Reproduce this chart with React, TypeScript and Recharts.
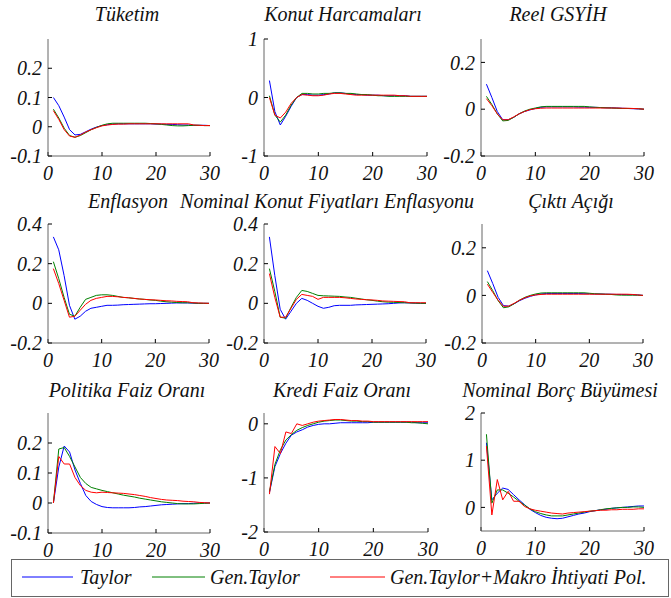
import React from "react";
import { LineChart, Line, XAxis, YAxis } from "recharts";

// horizon (quarters)
const periods = [1, 2, 3, 4, 5, 6, 7, 8, 9, 10, 11, 12, 13, 14, 15, 16, 17, 18, 19, 20, 21, 22, 23, 24, 25, 26, 27, 28, 29, 30];

const tuketimTaylor = [0.1, 0.072, 0.033, -0.01, -0.028, -0.026, -0.017, -0.008, -0.001, 0.004, 0.007, 0.009, 0.01, 0.01, 0.01, 0.01, 0.01, 0.01, 0.01, 0.009, 0.009, 0.008, 0.008, 0.007, 0.006, 0.006, 0.005, 0.005, 0.005, 0.004];
const tuketimGen = [0.06, 0.03, -0.005, -0.03, -0.036, -0.03, -0.02, -0.01, -0.002, 0.005, 0.01, 0.012, 0.012, 0.012, 0.012, 0.012, 0.012, 0.012, 0.011, 0.01, 0.008, 0.006, 0.004, 0.003, 0.003, 0.004, 0.005, 0.005, 0.004, 0.004];
const tuketimMakro = [0.055, 0.025, -0.01, -0.032, -0.036, -0.028, -0.018, -0.01, -0.003, 0.003, 0.006, 0.008, 0.009, 0.009, 0.01, 0.01, 0.01, 0.01, 0.01, 0.01, 0.01, 0.01, 0.01, 0.01, 0.01, 0.01, 0.006, 0.005, 0.004, 0.004];

const konutTaylor = [0.29, -0.24, -0.47, -0.32, -0.15, 0.0, 0.05, 0.05, 0.04, 0.04, 0.05, 0.06, 0.08, 0.08, 0.07, 0.06, 0.05, 0.05, 0.04, 0.04, 0.04, 0.03, 0.03, 0.03, 0.03, 0.03, 0.02, 0.02, 0.02, 0.02];
const konutGen = [0.03, -0.3, -0.42, -0.3, -0.13, 0.0, 0.07, 0.07, 0.06, 0.06, 0.07, 0.07, 0.08, 0.08, 0.07, 0.07, 0.06, 0.05, 0.05, 0.04, 0.03, 0.03, 0.02, 0.02, 0.02, 0.02, 0.02, 0.02, 0.02, 0.02];
const konutMakro = [0.0, -0.3, -0.35, -0.25, -0.1, 0.0, 0.05, 0.04, 0.03, 0.03, 0.04, 0.06, 0.07, 0.07, 0.06, 0.05, 0.04, 0.04, 0.04, 0.04, 0.04, 0.04, 0.04, 0.04, 0.03, 0.03, 0.02, 0.02, 0.02, 0.02];

const gsyihTaylor = [0.107, 0.05, -0.01, -0.045, -0.045, -0.035, -0.02, -0.01, -0.003, 0.003, 0.008, 0.01, 0.01, 0.01, 0.01, 0.01, 0.01, 0.009, 0.009, 0.008, 0.008, 0.007, 0.006, 0.006, 0.005, 0.004, 0.003, 0.002, 0.001, 0.0];
const gsyihGen = [0.055, 0.02, -0.02, -0.05, -0.048, -0.035, -0.02, -0.008, 0.0, 0.005, 0.01, 0.012, 0.012, 0.012, 0.012, 0.012, 0.012, 0.012, 0.012, 0.01, 0.008, 0.007, 0.006, 0.005, 0.004, 0.003, 0.003, 0.003, 0.002, 0.0];
const gsyihMakro = [0.045, 0.015, -0.02, -0.045, -0.045, -0.033, -0.02, -0.01, -0.002, 0.002, 0.004, 0.005, 0.005, 0.005, 0.005, 0.005, 0.005, 0.005, 0.005, 0.005, 0.005, 0.005, 0.005, 0.005, 0.005, 0.004, 0.004, 0.003, 0.002, 0.0];

const enfTaylor = [0.335, 0.27, 0.14, -0.01, -0.08, -0.065, -0.04, -0.025, -0.02, -0.015, -0.01, -0.01, -0.009, -0.007, -0.006, -0.005, -0.004, -0.003, -0.002, -0.002, -0.001, 0.0, 0.001, 0.002, 0.002, 0.002, 0.001, 0.0, 0.0, 0.0];
const enfGen = [0.21, 0.125, 0.03, -0.055, -0.065, -0.02, 0.02, 0.03, 0.04, 0.043, 0.043, 0.04, 0.035, 0.03, 0.028, 0.025, 0.022, 0.02, 0.017, 0.015, 0.011, 0.008, 0.006, 0.004, 0.003, 0.003, 0.002, 0.0, 0.0, 0.0];
const enfMakro = [0.175, 0.1, 0.015, -0.07, -0.065, -0.035, -0.005, 0.015, 0.025, 0.03, 0.035, 0.035, 0.033, 0.03, 0.028, 0.025, 0.022, 0.02, 0.018, 0.017, 0.015, 0.013, 0.012, 0.01, 0.009, 0.008, 0.003, 0.002, 0.001, 0.0];

const fiyatTaylor = [0.335, 0.14, -0.03, -0.08, -0.04, 0.0, 0.025, 0.015, 0.0, -0.015, -0.025, -0.02, -0.012, -0.01, -0.01, -0.01, -0.008, -0.007, -0.006, -0.005, -0.004, -0.003, -0.002, 0.0, 0.002, 0.003, 0.002, 0.001, 0.0, 0.0];
const fiyatGen = [0.175, 0.06, -0.07, -0.075, -0.02, 0.03, 0.065, 0.06, 0.05, 0.04, 0.038, 0.037, 0.036, 0.035, 0.032, 0.03, 0.026, 0.022, 0.018, 0.015, 0.011, 0.008, 0.006, 0.005, 0.004, 0.003, 0.002, 0.001, 0.0, 0.0];
const fiyatMakro = [0.15, 0.03, -0.07, -0.07, -0.025, 0.02, 0.045, 0.04, 0.035, 0.02, 0.03, 0.03, 0.03, 0.03, 0.028, 0.025, 0.022, 0.02, 0.018, 0.017, 0.015, 0.012, 0.011, 0.01, 0.009, 0.008, 0.003, 0.003, 0.003, 0.003];

const aciginTaylor = [0.104, 0.05, -0.008, -0.043, -0.045, -0.035, -0.022, -0.012, -0.004, 0.002, 0.006, 0.008, 0.008, 0.008, 0.008, 0.008, 0.008, 0.008, 0.007, 0.007, 0.006, 0.006, 0.005, 0.005, 0.004, 0.004, 0.003, 0.003, 0.002, 0.0];
const aciginGen = [0.058, 0.02, -0.022, -0.052, -0.048, -0.035, -0.02, -0.008, 0.0, 0.006, 0.01, 0.011, 0.011, 0.011, 0.011, 0.011, 0.011, 0.011, 0.011, 0.009, 0.007, 0.006, 0.005, 0.004, 0.002, 0.001, 0.001, 0.001, 0.001, 0.0];
const aciginMakro = [0.047, 0.013, -0.02, -0.046, -0.045, -0.033, -0.02, -0.01, -0.002, 0.002, 0.004, 0.005, 0.005, 0.005, 0.005, 0.005, 0.005, 0.005, 0.005, 0.005, 0.005, 0.005, 0.005, 0.005, 0.005, 0.005, 0.005, 0.004, 0.002, 0.0];

const faizTaylor = [0.0, 0.12, 0.19, 0.17, 0.11, 0.065, 0.025, 0.005, -0.005, -0.012, -0.015, -0.016, -0.016, -0.016, -0.016, -0.015, -0.013, -0.012, -0.01, -0.008, -0.006, -0.005, -0.004, -0.003, -0.002, -0.002, -0.001, 0.0, 0.0, 0.0];
const faizGen = [0.0, 0.18, 0.185, 0.155, 0.12, 0.085, 0.065, 0.052, 0.047, 0.042, 0.038, 0.034, 0.03, 0.026, 0.023, 0.02, 0.016, 0.013, 0.01, 0.007, 0.004, 0.002, 0.0, -0.002, -0.003, -0.003, -0.003, -0.002, -0.001, 0.0];
const faizMakro = [0.0, 0.155, 0.13, 0.13, 0.085, 0.058, 0.042, 0.036, 0.034, 0.036, 0.035, 0.034, 0.033, 0.032, 0.03, 0.028, 0.025, 0.022, 0.018, 0.015, 0.012, 0.01, 0.009, 0.008, 0.006, 0.005, 0.004, 0.002, 0.001, 0.0];

const krediTaylor = [-1.27, -0.79, -0.55, -0.36, -0.21, -0.15, -0.11, -0.06, -0.03, -0.01, 0.0, 0.0, 0.01, 0.02, 0.02, 0.02, 0.02, 0.02, 0.02, 0.03, 0.03, 0.03, 0.03, 0.03, 0.03, 0.03, 0.03, 0.02, 0.02, 0.02];
const krediGen = [-1.25, -0.75, -0.48, -0.3, -0.2, -0.12, -0.07, -0.03, 0.0, 0.03, 0.05, 0.06, 0.07, 0.07, 0.06, 0.05, 0.05, 0.04, 0.04, 0.03, 0.03, 0.03, 0.03, 0.03, 0.03, 0.03, 0.02, 0.02, 0.01, 0.0];
const krediMakro = [-1.3, -0.42, -0.55, -0.15, -0.18, 0.0, -0.03, 0.0, 0.03, 0.05, 0.06, 0.07, 0.08, 0.08, 0.07, 0.06, 0.06, 0.05, 0.05, 0.04, 0.04, 0.04, 0.04, 0.04, 0.04, 0.04, 0.04, 0.04, 0.04, 0.04];

const borcTaylor = [1.37, 0.16, 0.3, 0.41, 0.38, 0.27, 0.16, 0.06, -0.04, -0.11, -0.17, -0.21, -0.23, -0.24, -0.23, -0.2, -0.17, -0.14, -0.12, -0.09, -0.07, -0.05, -0.04, -0.02, -0.01, 0.0, 0.01, 0.02, 0.03, 0.03];
const borcGen = [1.55, 0.09, 0.37, 0.37, 0.3, 0.22, 0.13, 0.05, -0.03, -0.09, -0.13, -0.16, -0.18, -0.18, -0.18, -0.16, -0.14, -0.12, -0.1, -0.08, -0.07, -0.05, -0.03, -0.02, -0.01, 0.0, 0.0, 0.01, 0.01, 0.0];
const borcMakro = [1.3, -0.16, 0.59, 0.16, 0.34, 0.13, 0.13, 0.02, -0.03, -0.06, -0.08, -0.1, -0.12, -0.13, -0.14, -0.12, -0.11, -0.1, -0.09, -0.08, -0.07, -0.06, -0.06, -0.05, -0.05, -0.04, -0.04, -0.04, -0.03, -0.03];

const xTicks = [0, 10, 20, 30];

const seriesNames = ["Taylor", "Gen.Taylor", "Gen.Taylor+Makro İhtiyati Pol."];
const seriesColors = ["#0000ff", "#008000", "#ff0000"];

const FONT = "Liberation Serif";

// plot box (l, t, r, b) and title centre for each panel
const panels = [
  { title: "Tüketim", s: [tuketimTaylor, tuketimGen, tuketimMakro], domain: [-0.1, 0.3], ticks: [-0.1, 0, 0.1, 0.2], box: [48, 39, 210, 156], tx: 127, ty: 4 },
  { title: "Konut Harcamaları", s: [konutTaylor, konutGen, konutMakro], domain: [-1, 1], ticks: [-1, 0, 1], box: [264, 39, 427, 156], tx: 343, ty: 4 },
  { title: "Reel GSYİH", s: [gsyihTaylor, gsyihGen, gsyihMakro], domain: [-0.2, 0.3], ticks: [-0.2, 0, 0.2], box: [481, 39, 644, 156], tx: 558, ty: 4 },
  { title: "Enflasyon", s: [enfTaylor, enfGen, enfMakro], domain: [-0.2, 0.4], ticks: [-0.2, 0, 0.2, 0.4], box: [48, 224, 209, 343], tx: 128, ty: 191 },
  { title: "Nominal Konut Fiyatları Enflasyonu", s: [fiyatTaylor, fiyatGen, fiyatMakro], domain: [-0.2, 0.4], ticks: [-0.2, 0, 0.2, 0.4], box: [264, 224, 426, 343], tx: 327, ty: 191 },
  { title: "Çıktı Açığı", s: [aciginTaylor, aciginGen, aciginMakro], domain: [-0.2, 0.3], ticks: [-0.2, 0, 0.2], box: [482, 224, 643, 343], tx: 571, ty: 191 },
  { title: "Politika Faiz Oranı", s: [faizTaylor, faizGen, faizMakro], domain: [-0.1, 0.3], ticks: [-0.1, 0, 0.1, 0.2], box: [48, 413, 210, 533], tx: 127, ty: 380 },
  { title: "Kredi Faiz Oranı", s: [krediTaylor, krediGen, krediMakro], domain: [-2, 0.2], ticks: [-2, -1, 0], box: [264, 413, 428, 532], tx: 342, ty: 380 },
  { title: "Nominal Borç Büyümesi", s: [borcTaylor, borcGen, borcMakro], domain: [-0.5, 2], ticks: [0, 1, 2], box: [481, 413, 644, 531], tx: 560, ty: 380 },
];

const tickStyle = { fontSize: 20, fontFamily: FONT, fontStyle: "italic", fill: "#111" };
const frame = { stroke: "#666" };
const tickMark = { stroke: "#000" };
const blank = () => "";

const YW = 50;
const XH = 32;
const PT = 14; // room above the box for the top tick label
const PR = 16; // room right of the box for the "30" label

function Panel({ p }: { p: any }) {
  const [l, t, r, b] = p.box;
  const w = r - l;
  const h = b - t;
  const rows = periods.map((x, i) => ({ x, a: p.s[0][i], g: p.s[1][i], m: p.s[2][i] }));
  return (
    <>
      <div style={{ position: "absolute", left: p.tx - 160, width: 320, top: p.ty, textAlign: "center", fontFamily: FONT, fontStyle: "italic", fontSize: 20, lineHeight: "20px", color: "#111", whiteSpace: "nowrap" }}>
        {p.title}
      </div>
      <div style={{ position: "absolute", left: l - YW, top: t - PT }}>
        <LineChart width={w + YW + PR} height={h + XH + PT} data={rows} margin={{ top: PT, right: PR, bottom: 0, left: 0 }}>
          <XAxis xAxisId="b" dataKey="x" type="number" domain={[0, 30]} ticks={xTicks} height={XH} tickSize={-4} tickMargin={14} axisLine={frame} tickLine={tickMark} tick={tickStyle} interval={0} allowDataOverflow />
          <XAxis xAxisId="t" orientation="top" dataKey="x" type="number" domain={[0, 30]} ticks={xTicks} height={0} tickSize={-4} tickFormatter={blank} axisLine={frame} tickLine={tickMark} interval={0} allowDataOverflow />
          <YAxis yAxisId="l" type="number" domain={p.domain} ticks={p.ticks} width={YW} tickSize={-4} tickMargin={10} axisLine={frame} tickLine={tickMark} tick={tickStyle} interval={0} allowDataOverflow />
          <YAxis yAxisId="r" orientation="right" type="number" domain={p.domain} ticks={p.ticks} width={0} tickSize={-4} tickFormatter={blank} axisLine={frame} tickLine={tickMark} interval={0} allowDataOverflow />
          <Line xAxisId="b" yAxisId="l" dataKey="a" type="linear" stroke={seriesColors[0]} strokeWidth={1} dot={false} isAnimationActive={false} />
          <Line xAxisId="b" yAxisId="l" dataKey="g" type="linear" stroke={seriesColors[1]} strokeWidth={1} dot={false} isAnimationActive={false} />
          <Line xAxisId="b" yAxisId="l" dataKey="m" type="linear" stroke={seriesColors[2]} strokeWidth={1} dot={false} isAnimationActive={false} />
        </LineChart>
      </div>
    </>
  );
}

// legend item positions: [line start, line end, text start]
const legendPos = [[22, 73, 80], [152, 205, 210], [330, 385, 390]];

export default function App() {
  return (
    <div style={{ position: "absolute", left: 0, top: 0, width: 671, height: 598, background: "#fff", overflow: "hidden" }}>
      {panels.map((p, i) => <Panel key={i} p={p} />)}
      <div style={{ position: "absolute", left: 11, top: 559, width: 656, height: 36, border: "1px solid #666" }} />
      {seriesNames.map((name, i) => (
        <React.Fragment key={name}>
          <svg style={{ position: "absolute", left: legendPos[i][0], top: 576 }} width={legendPos[i][1] - legendPos[i][0]} height={2}>
            <line x1={0} y1={1} x2={legendPos[i][1] - legendPos[i][0]} y2={1} stroke={seriesColors[i]} strokeWidth={1} />
          </svg>
          <div style={{ position: "absolute", left: legendPos[i][2], top: 567, fontFamily: FONT, fontStyle: "italic", fontSize: 20, lineHeight: "20px", color: "#111", whiteSpace: "nowrap" }}>
            {name}
          </div>
        </React.Fragment>
      ))}
    </div>
  );
}
